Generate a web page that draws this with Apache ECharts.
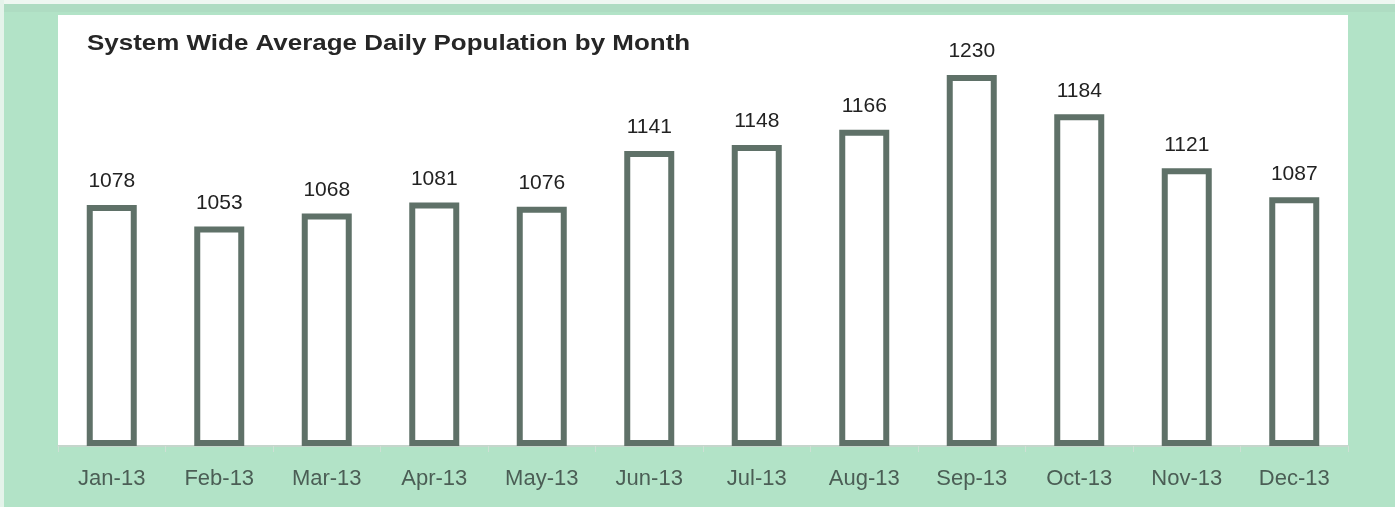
<!DOCTYPE html>
<html>
<head>
<meta charset="utf-8">
<script src="https://cdn.jsdelivr.net/npm/echarts@6/dist/echarts.min.js"></script>
<style>
html,body{margin:0;padding:0;background:#ffffff;}
#chart{width:1395px;height:507px;}
</style>
</head>
<body>
<div id="chart"></div>
<script>
var titleText = 'System Wide Average Daily Population by Month';
var months = ['Jan-13','Feb-13','Mar-13','Apr-13','May-13','Jun-13','Jul-13','Aug-13','Sep-13','Oct-13','Nov-13','Dec-13'];
var population = [1078,1053,1068,1081,1076,1141,1148,1166,1230,1184,1121,1087];
var yMin = 800;
var yMax = 1300;

var chart = echarts.init(document.getElementById('chart'), null, {renderer:'canvas'});
chart.setOption({
  backgroundColor: '#b2e3c7',
  animation: false,
  graphic: [
    {type:'rect', left:0, top:0, shape:{width:1395, height:4}, style:{fill:'#eef7f1'}, z:-1},
    {type:'rect', left:0, top:0, shape:{width:4, height:507}, style:{fill:'#e4f3ea'}, z:-1},
    {type:'rect', left:4, top:4, shape:{width:1391, height:8}, style:{fill:'#aedcc2'}, z:-1},
    {type:'rect', x:58, y:15, shape:{width:1290, height:432}, style:{fill:'#ffffff'}, z:-1},
    {type:'text', x:87, y:33, scaleX:1.18, z:10,
     style:{text: titleText, fill:'#262626', font:'bold 22px Arial, "Liberation Sans", sans-serif'}}
  ],
  grid: {
    left: 58, right: 47, top: 15, bottom: 64,
    show: false
  },
  xAxis: {
    type: 'category',
    data: months,
    boundaryGap: true,
    offset: 3,
    axisLine: {show:true, lineStyle:{color:'#c5d6cc', width:2}},
    axisTick: {show:true, length:6, lineStyle:{color:'#cfe0d5'}},
    axisLabel: {margin:22, fontFamily:'Arial, "Liberation Sans", sans-serif', fontSize:22, color:'#4b5e55'}
  },
  yAxis: {
    type: 'value', min: yMin, max: yMax,
    show: false, splitLine: {show:false}
  },
  series: [{
    type: 'bar',
    data: population,
    barWidth: 50,
    itemStyle: {color:'#ffffff', borderColor:'#5f7168', borderWidth:6},
    label: {
      show: true, position: 'top', distance: 13,
      fontFamily:'Arial, "Liberation Sans", sans-serif', fontSize:21, color:'#222222'
    }
  }]
});
</script>
</body>
</html>
